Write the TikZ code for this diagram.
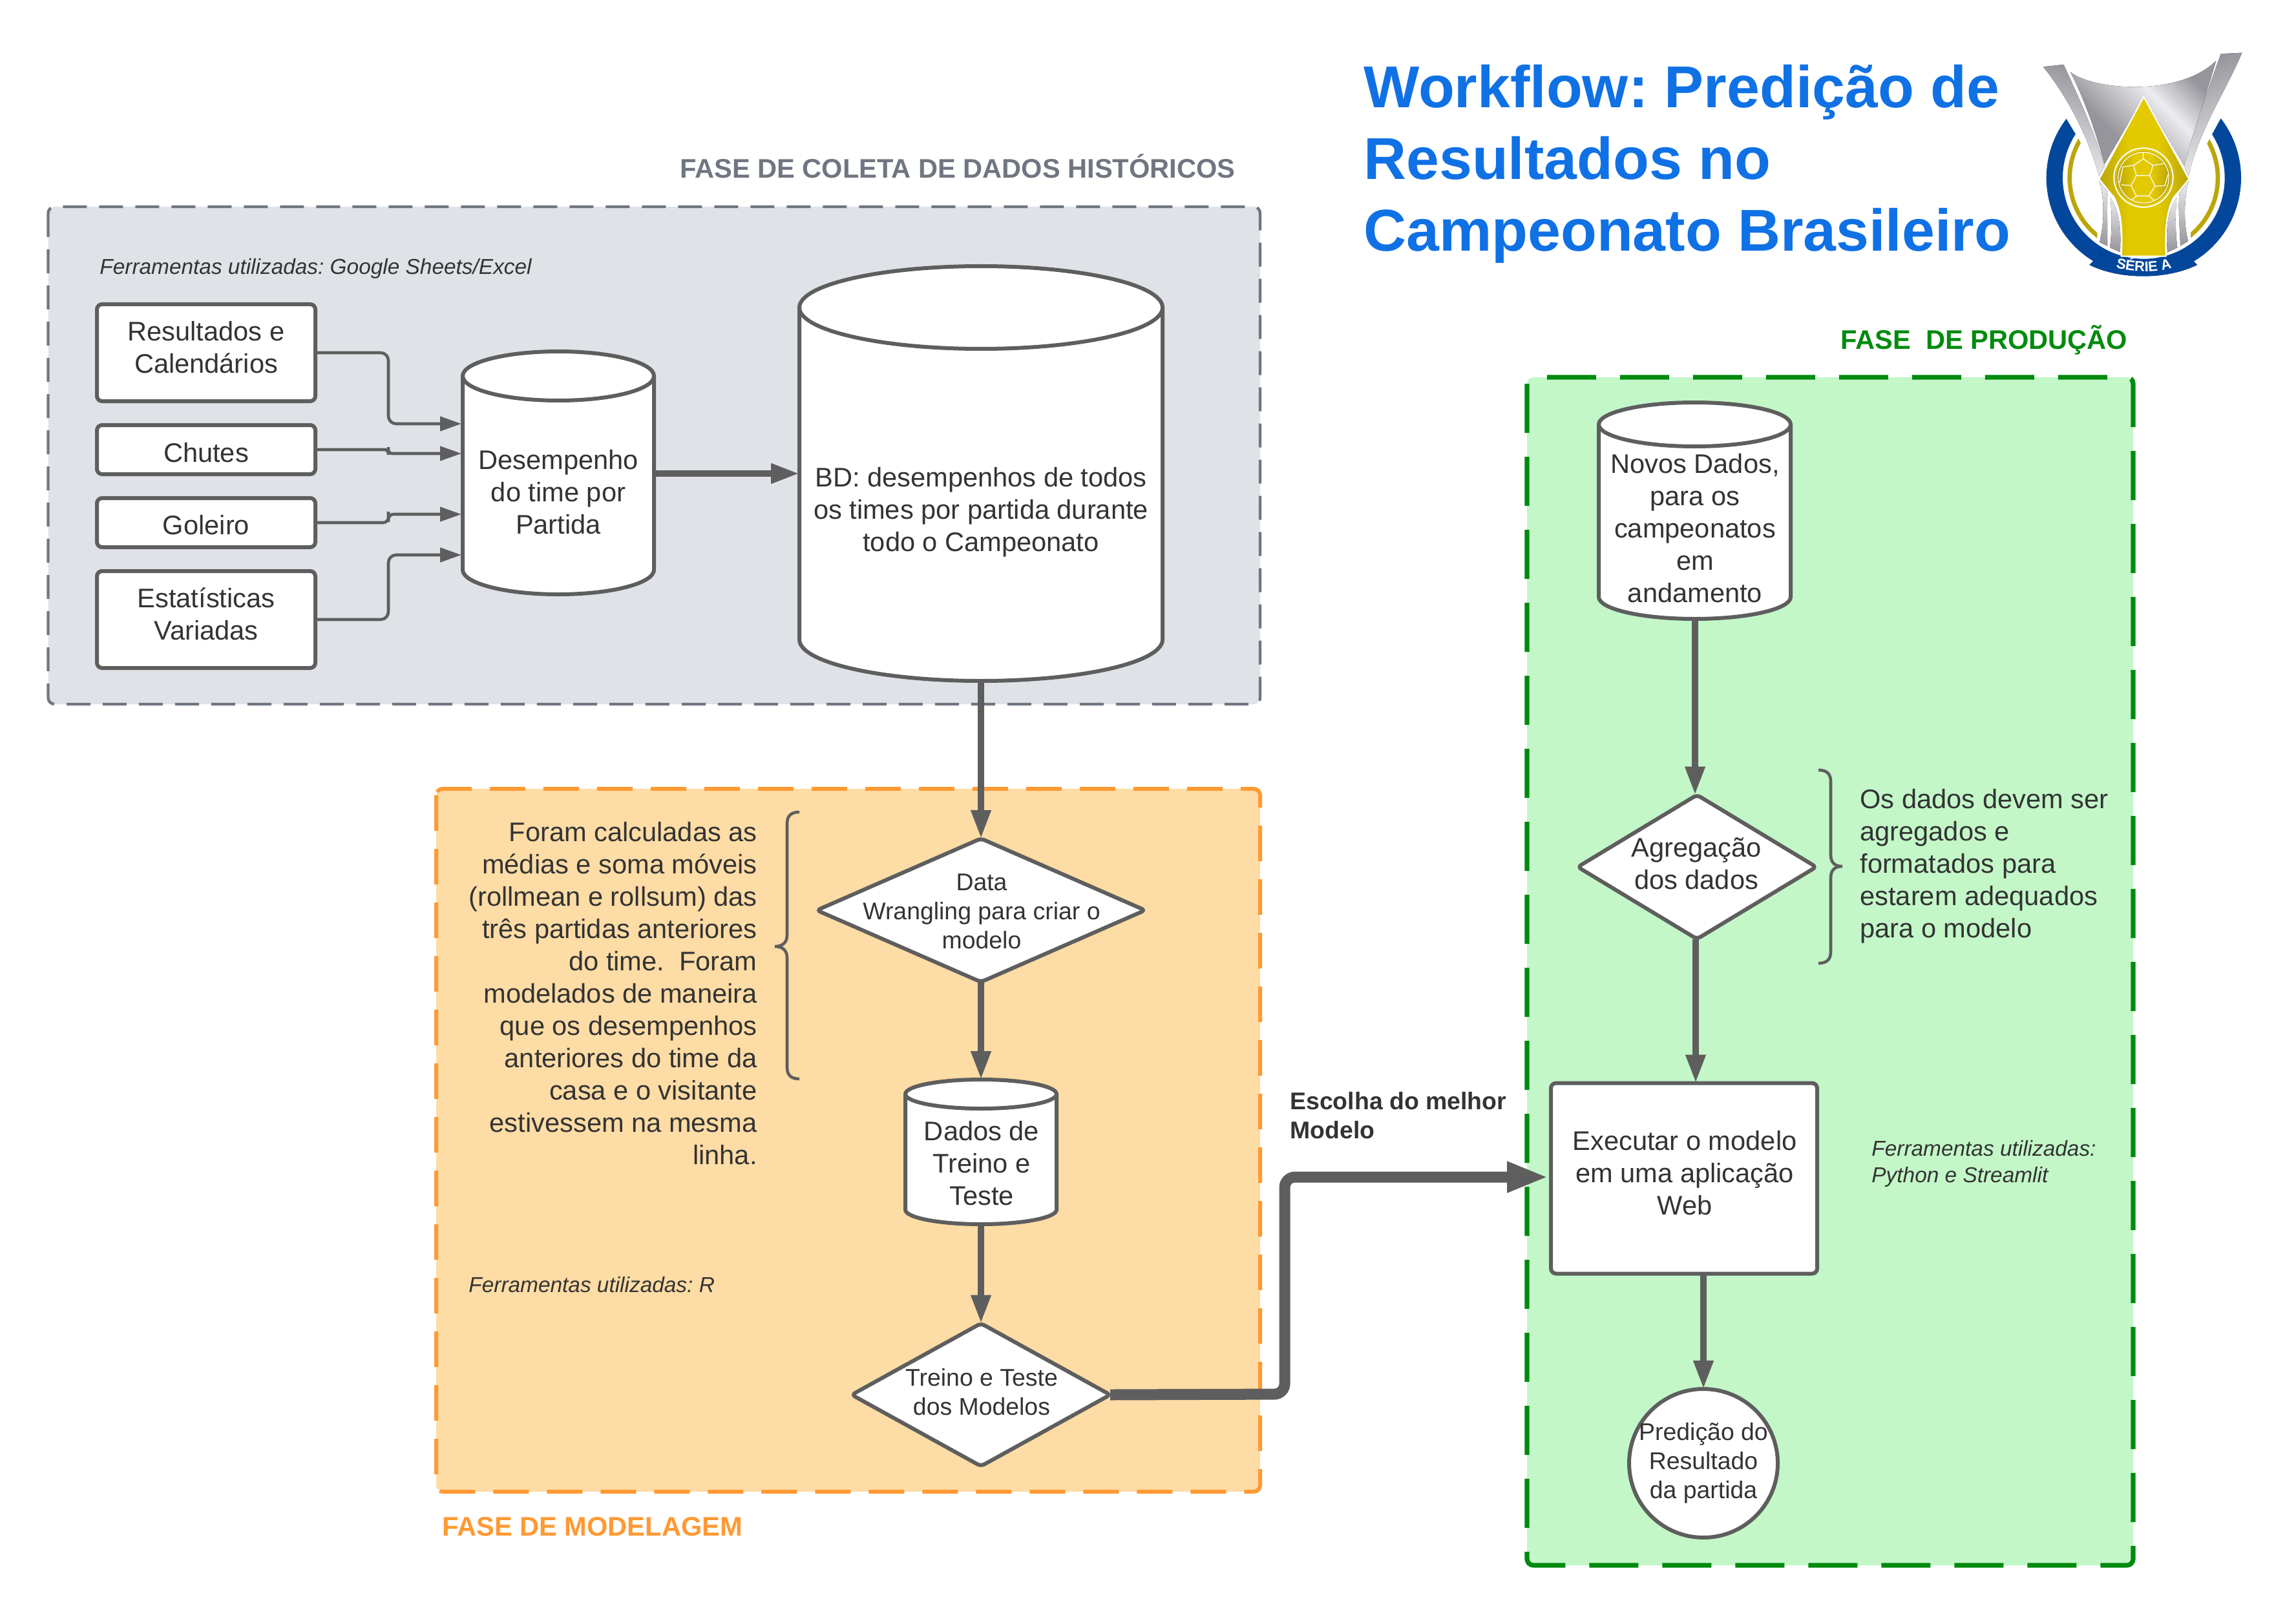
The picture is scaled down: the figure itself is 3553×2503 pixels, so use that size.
\documentclass[tikz,border=0pt]{standalone}
\usepackage{fontspec}
\setmainfont{Liberation Sans}
\usetikzlibrary{arrows.meta,shapes.geometric,decorations.text}
\definecolor{ink}{HTML}{333333}
\definecolor{flow}{HTML}{5E5E5E}
\definecolor{grayfill}{HTML}{DFE2E7}
\definecolor{grayline}{HTML}{6F7681}
\definecolor{orangefill}{HTML}{FDDCA5}
\definecolor{orangeline}{HTML}{FF9933}
\definecolor{greenfill}{HTML}{C3F7C8}
\definecolor{greenline}{HTML}{008A0E}
\definecolor{titleblue}{HTML}{1071E5}
\definecolor{logoblue}{HTML}{03479D}
\definecolor{logoblue2}{HTML}{0A70B8}
\definecolor{gold}{HTML}{E3CA00}
\definecolor{golddark}{HTML}{BBA50A}
\definecolor{silverd}{HTML}{96959B}
\definecolor{silverl}{HTML}{ECECEF}
\definecolor{silverm}{HTML}{B9B9BE}
\pgfdeclarehorizontalshading{silvercup}{100bp}{color(0bp)=(silverd); color(36bp)=(silverd); color(58bp)=(silverl); color(74bp)=(silverd); color(100bp)=(silverd)}
\pgfdeclarehorizontalshading{goldband}{100bp}{color(0bp)=(golddark); color(25bp)=(golddark); color(42bp)=(gold); color(58bp)=(gold); color(75bp)=(golddark); color(100bp)=(golddark)}
\frenchspacing
\tikzset{
  shapeline/.style={draw=flow,line width=3pt,fill=white,outer sep=0pt,inner sep=0pt},
  boxshape/.style={shapeline,rectangle,rounded corners=4pt},
  dia/.style={shapeline,diamond,rounded corners=3pt},
  txt/.style={text=ink,align=center,inner sep=0pt,font=\fontsize{20.8}{25}\selectfont},
  txtl/.style={txt,align=left,anchor=west},
  small/.style={txt,font=\fontsize{18.7}{22.5}\selectfont},
  note/.style={text=ink,align=left,anchor=west,inner sep=0pt,font=\itshape\fontsize{16.7}{20.5}\selectfont},
  head/.style={anchor=west,inner sep=0pt,font=\bfseries\fontsize{20.8}{25}\selectfont},
  phase/.style={rounded corners=5pt},
  thin arrow/.style={draw=flow,line width=2.3pt,rounded corners=6pt,-{Triangle[length=16.5pt,width=11pt]}},
  mid arrow/.style={draw=flow,line width=5pt,-{Triangle[length=22pt,width=14.5pt]}},
  fat arrow/.style={draw=flow,line width=5pt,-{Triangle[length=22pt,width=14.5pt]}},
  huge arrow/.style={draw=flow,line width=8.5pt,rounded corners=8pt,-{Triangle[length=32pt,width=22pt]}},
  bracel/.style={draw=flow,line width=2.3pt},
}
% name, left x, right x, top y, ellipse ry, bottom y
\newcommand{\cylshape}[6]{%
  \pgfmathsetmacro{\cxa}{#2}\pgfmathsetmacro{\cxb}{#3}
  \pgfmathsetmacro{\cyt}{#4+#5}\pgfmathsetmacro{\cyb}{#6-#5}
  \pgfmathsetmacro{\crx}{(#3-#2)/2}\pgfmathsetmacro{\cxm}{(#2+#3)/2}
  \pgfmathsetmacro{\cym}{(#4+#6)/2}
  \pgfmathsetmacro{\cw}{(#3-#2)*0.5}\pgfmathsetmacro{\ch}{(#6-#4)*0.5}
  \draw[draw=flow,line width=3pt,fill=white]
    (\cxa,\cyt) -- (\cxa,\cyb) arc[start angle=180,end angle=0,x radius=\crx,y radius=#5]
    -- (\cxb,\cyt) arc[start angle=0,end angle=-180,x radius=\crx,y radius=#5] -- cycle;
  \draw[draw=flow,line width=3pt] (\cxa,\cyt) arc[start angle=180,end angle=0,x radius=\crx,y radius=#5];
  \node[inner sep=0pt,outer sep=0pt,minimum width=\cw pt,minimum height=\ch pt] (#1) at (\cxm,\cym) {};
}
\begin{document}
\begin{tikzpicture}[x=0.5pt,y=-0.5pt]
\useasboundingbox (0,0) rectangle (3553,2503);

% phase panels
\draw[phase,fill=grayfill,draw=grayline,line width=2.2pt,dash pattern=on 18.5pt off 9.5pt] (74.5,320) rectangle (1950,1090);
\draw[phase,fill=orangefill,draw=orangeline,line width=3pt,dash pattern=on 27.5pt off 14pt] (675,1221) rectangle (1950,2309);
\draw[phase,fill=greenfill,draw=greenline,line width=3.6pt,dash pattern=on 38pt off 18.5pt] (2363,584) rectangle (3301,2423);

% headings
\node[head,text=grayline] (hcoleta) at (1052,257) {FASE DE COLETA DE DADOS HISTÓRICOS};
\node[head,text=greenline] (hprod) at (2848,526) {FASE\ \ DE PRODUÇÃO};
\node[head,text=orangeline] (hmodel) at (684,2363) {FASE DE MODELAGEM};
\node[anchor=west,align=left,inner sep=0pt,text=titleblue,font=\bfseries\fontsize{45.7}{55.5}\selectfont] (title) at (2110,254)
  {Workflow: Predição de\\Resultados no\\Campeonato Brasileiro};

% notes
\node[note] (n1) at (154,416) {Ferramentas utilizadas: Google Sheets/Excel};
\node[note] (n2) at (725,1989) {Ferramentas utilizadas: R};
\node[note] (n3) at (2896,1801) {Ferramentas utilizadas:\\Python e Streamlit};
\node[txt,align=left,anchor=west,font=\bfseries\fontsize{18.7}{22.5}\selectfont] (escolha) at (1996,1727) {Escolha do melhor\\Modelo};
\node[txt,align=right,anchor=east] (leftnote) at (1172,1538) {Foram calculadas as\\médias e soma móveis\\(rollmean e rollsum) das\\três partidas anteriores\\do time.\ \ Foram\\modelados de maneira\\que os desempenhos\\anteriores do time da\\casa e o visitante\\estivessem na mesma\\linha.};
\node[txtl] (rightnote) at (2878,1341) {Os dados devem ser\\agregados e\\formatados para\\estarem adequados\\para o modelo};

% braces
\coordinate (bl) at (1199,1465);
\coordinate (br) at (2851,1341);
\draw[bracel] (1237,1257) .. controls (1225,1257) and (1218,1262) .. (1218,1275) -- (1218,1447)
  .. controls (1218,1460) and (1210,1465) .. (bl) .. controls (1210,1465) and (1218,1470) .. (1218,1483)
  -- (1218,1652) .. controls (1218,1665) and (1225,1670) .. (1237,1670);
\draw[bracel] (2814,1192) .. controls (2826,1192) and (2833,1197) .. (2833,1210) -- (2833,1323)
  .. controls (2833,1336) and (2840,1341) .. (br) .. controls (2840,1341) and (2833,1346) .. (2833,1359)
  -- (2833,1473) .. controls (2833,1486) and (2826,1491) .. (2814,1491);

% input boxes
\node[boxshape,minimum width=169pt,minimum height=75pt] (b1) at (319,546) {};
\node[boxshape,minimum width=169pt,minimum height=38pt] (b2) at (319,696) {};
\node[boxshape,minimum width=169pt,minimum height=38pt] (b3) at (319,809) {};
\node[boxshape,minimum width=169pt,minimum height=75pt] (b4) at (319,959) {};
\node[txt] (t1) at (319,538) {Resultados e\\Calendários};
\node[txt] (t2) at (319,701) {Chutes};
\node[txt] (t3) at (319,813) {Goleiro};
\node[txt] (t4) at (319,950) {Estatísticas\\Variadas};

% cylinders
\cylshape{c1}{716}{1012}{544}{38}{920}
\node[txt] (tc1) at (864,762) {Desempenho\\do time por\\Partida};
\cylshape{c2}{1237}{1799}{412}{64}{1054}
\node[txt] (tc2) at (1518,793) {BD: desempenhos de todos\\os times por partida durante\\todo o Campeonato};
\cylshape{c3}{1401}{1635}{1671}{22.5}{1895}
\node[txt] (tc3) at (1519,1801) {Dados de\\Treino e\\Teste};
\cylshape{c4}{2474}{2771}{623}{34}{958}
\node[txt] (tc4) at (2623,818) {Novos Dados,\\para os\\campeonatos\\em\\andamento};

% diamonds
\node[dia,minimum width=254pt,minimum height=111pt,aspect=2.29] (d1) at (1518,1409) {};
\node[small] (td1) at (1519,1411) {Data\\Wrangling para criar o\\modelo};
\node[dia,minimum width=200pt,minimum height=110.5pt,aspect=1.81] (d2) at (1518,2159) {};
\node[small] (td2) at (1519,2155) {Treino e Teste\\dos Modelos};
\node[dia,minimum width=184.5pt,minimum height=111.5pt,aspect=1.653] (d3) at (2626,1342) {};
\node[txt] (td3) at (2625,1337) {Agregação\\dos dados};

% executar and result
\node[boxshape,minimum width=206pt,minimum height=147.5pt] (exec) at (2606,1824) {};
\node[txt] (texec) at (2607,1816) {Executar o modelo\\em uma aplicação\\Web};
\node[shapeline,circle,minimum size=115pt] (res) at (2636,2265) {};
\node[small] (tres) at (2636,2265) {Predição do\\Resultado\\da partida};

% connectors
\coordinate (e1) at (601,600);
\coordinate (e2) at (601,698);
\coordinate (e3) at (601,800);
\coordinate (e4) at (601,900);
\coordinate (i1) at (714,656);
\coordinate (i2) at (714,702);
\coordinate (i3) at (714,796);
\coordinate (i4) at (714,859);
\draw[thin arrow] (b1.east) -| (e1) |- (i1);
\draw[thin arrow,rounded corners=3pt] (b2.east) -| (e2) |- (i2);
\draw[thin arrow,rounded corners=4pt] (b3.east) -| (e3) |- (i3);
\draw[thin arrow] (b4.east) -| (e4) |- (i4);
\draw[fat arrow] (c1.east |- 0,733) -- (c2.west |- 0,733);
\draw[mid arrow] (c2.south) -- (d1.north);
\draw[mid arrow] (d1.south) -- (c3.north);
\draw[mid arrow] (c3.south) -- (d2.north);
\coordinate (jog) at (1988,2158);
\coordinate (jog2) at (1988,1822);
\draw[huge arrow] (d2.east) -- (jog) -- (jog2) -- ([xshift=-2pt]exec.west |- jog2);
\draw[mid arrow] (c4.south -| 2623,0) -- (d3.north -| 2623,0);
\draw[mid arrow] (d3.south -| 2624,0) -- (exec.north -| 2624,0);
\draw[mid arrow] (exec.south -| res) -- (res.north);

% logo
\begin{scope}[shift={(3100,50)},scale=0.33333]
  \fill[logoblue,even odd rule] (652,676) circle [radius=452] (652,676) circle [radius=376];
  \fill[left color=logoblue,middle color=logoblue2,right color=logoblue] (450,1030) .. controls (560,1075) and (740,1075) .. (850,1030) -- (900,1080) .. controls (760,1150) and (540,1150) .. (400,1080) -- cycle;
  \fill[golddark,even odd rule] (652,676) circle [radius=354] (652,676) circle [radius=334];
  \fill[white] (280,380) -- (360,512) -- (436,720) -- (436,965) -- (545,1036) -- (760,1036) -- (870,965) -- (870,720) -- (948,512) -- (1020,380) -- (1020,100) -- (280,100) -- cycle;
  % cup
  \fill[shading=silvercup,shading angle=45]
    (312,185) .. controls (420,270) and (820,300) .. (988,132) -- (840,620) -- (652,300) -- (470,612) .. controls (420,430) and (370,300) .. cycle;
  \fill[top color=silverd,bottom color=silverl,shading angle=-20]
    (185,160) -- (280,150) .. controls (350,300) and (430,480) .. (470,620) -- (445,670) .. controls (400,500) and (300,300) .. cycle;
  \fill[top color=silverd,bottom color=silverl,shading angle=20]
    (1010,100) -- (1108,95) .. controls (1040,260) and (900,470) .. (860,670) -- (840,620) .. controls (890,430) and (960,240) .. cycle;
  \fill[top color=silverl,bottom color=silverd]
    (445,692) -- (485,740) .. controls (480,820) and (485,900) .. (483,992) -- (447,975) .. controls (470,880) and (470,770) .. cycle;
  \fill[top color=silverl,bottom color=silverd]
    (497,768) .. controls (530,820) and (550,880) .. (542,1020) -- (495,1000) .. controls (505,920) and (505,840) .. cycle;
  \fill[top color=silverl,bottom color=silverd]
    (860,692) -- (818,745) .. controls (810,820) and (820,900) .. (822,992) -- (858,970) .. controls (835,880) and (840,770) .. cycle;
  \fill[top color=silverl,bottom color=silverd]
    (805,768) .. controls (770,820) and (752,880) .. (762,1022) -- (808,1000) .. controls (798,920) and (798,840) .. cycle;
  % gold diamond and stem
  \path[draw=white,line width=1pt,shading=goldband]
    (652,300) -- (862,682) -- (790,768) .. controls (760,830) and (750,900) .. (755,1040) -- (548,1040) .. controls (555,900) and (545,830) .. (515,768) -- (445,682) -- cycle;
  \draw[white,line width=1pt,fill=none] (651,675) circle [radius=137];
  \fill[shading=goldband] (651,675) circle [radius=122];
  \draw[white,line width=0.6pt] (651,675) circle [radius=118];
  \draw[white,line width=0.6pt,line join=round]
    (650,588) -- (695,618) -- (680,665) -- (618,665) -- (605,618) -- cycle
    (618,665) -- (593,712) -- (618,760) -- (675,760) -- (705,715) -- (680,665)
    (650,588) -- (650,558) (695,618) -- (745,610) (605,618) -- (555,625) -- (540,700)
    (593,712) -- (548,708) (705,715) -- (750,712) -- (765,660) (618,760) -- (595,780) (675,760) -- (700,780);
  \path[decorate,decoration={text along path,text color=white,text align=center,
      text={|\bfseries\fontsize{11}{12}\selectfont|SÉRIE A}}]
    (510,1090) .. controls (600,1118) and (710,1118) .. (795,1090);
\end{scope}
\end{tikzpicture}
\end{document}
